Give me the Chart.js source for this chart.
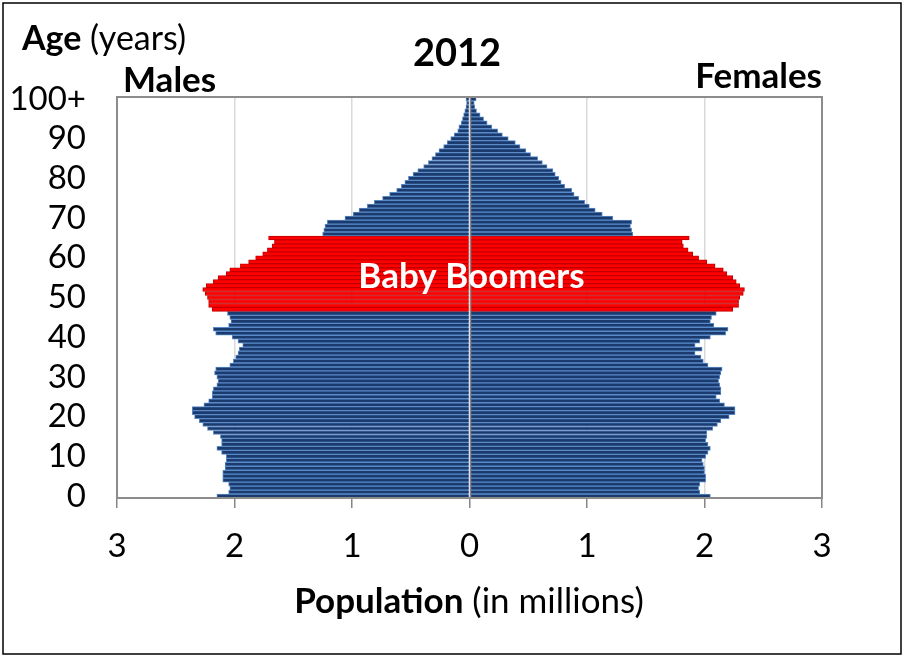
<!DOCTYPE html>
<html><head><meta charset="utf-8">
<script src="https://cdn.jsdelivr.net/npm/chart.js@4.4.1/dist/chart.umd.min.js"></script>
<style>html,body{margin:0;padding:0;background:#fff}#wrap{position:relative;width:904px;height:657px}canvas{display:block}</style>
</head><body><div id="wrap"><canvas id="c" width="904" height="657"></canvas></div>
<script>
// ---- data ----
const ageLabels = Array.from({length: 101}, (_, i) => i === 100 ? '100+' : String(i));
const tickAges = ['0','10','20','30','40','50','60','70','80','90','100+'];
const xTickValues = [-3,-2,-1,0,1,2,3];
const boomerAges = [47, 65]; // first and last age coloured as Baby Boomers
// population in millions, index = age (0 .. 100+)
const males = [2.15,2.05,2.04,2.05,2.10,2.10,2.10,2.08,2.08,2.07,
  2.07,2.11,2.15,2.11,2.11,2.12,2.18,2.23,2.27,2.30,
  2.34,2.36,2.36,2.26,2.22,2.19,2.19,2.18,2.15,2.14,
  2.15,2.17,2.16,2.04,2.01,1.99,1.97,1.96,1.93,1.97,
  2.02,2.16,2.18,2.05,2.03,2.04,2.06,2.19,2.22,2.22,
  2.23,2.25,2.27,2.24,2.18,2.14,2.07,2.04,1.95,1.88,
  1.82,1.76,1.72,1.68,1.66,1.71,1.25,1.24,1.23,1.21,
  1.06,0.99,0.94,0.87,0.81,0.74,0.68,0.62,0.58,0.55,
  0.52,0.48,0.44,0.39,0.35,0.32,0.29,0.26,0.22,0.19,
  0.16,0.13,0.10,0.09,0.07,0.06,0.05,0.04,0.03,0.025,
  0.03];
const females = [2.05,1.96,1.95,1.96,2.01,2.01,2.00,2.00,1.99,1.98,
  2.01,2.03,2.05,2.03,2.01,2.02,2.02,2.07,2.11,2.14,
  2.21,2.26,2.26,2.17,2.13,2.10,2.14,2.14,2.13,2.12,
  2.13,2.14,2.15,2.03,1.99,1.97,1.92,1.98,1.92,1.96,
  2.05,2.18,2.20,2.08,2.05,2.06,2.10,2.24,2.29,2.29,
  2.30,2.33,2.34,2.30,2.27,2.24,2.19,2.16,2.09,2.02,
  1.95,1.90,1.86,1.82,1.81,1.87,1.39,1.38,1.37,1.38,
  1.22,1.13,1.07,1.02,0.98,0.93,0.89,0.87,0.81,0.78,
  0.76,0.73,0.71,0.66,0.62,0.58,0.52,0.48,0.43,0.39,
  0.33,0.28,0.24,0.19,0.15,0.12,0.09,0.06,0.045,0.04,
  0.057];

// ---- styles ----
const NAVY = '#1B3A6E', NAVY_EDGE = '#5A8AC8';
const RED = '#FF0000', RED_EDGE = '#C00000';
const FONT = 'Lato, "Open Sans", sans-serif';
const isBoomer = i => i >= boomerAges[0] && i <= boomerAges[1];
const fills = ageLabels.map((_, i) => isBoomer(i) ? RED : NAVY);
const edges = ageLabels.map((_, i) => isBoomer(i) ? RED_EDGE : NAVY_EDGE);

const decor = {
  id: 'decor',
  afterDatasetsDraw(chart) {
    const {ctx, chartArea: a, scales: {x, y}} = chart;
    ctx.save();
    // zero (category axis) line on top of bars
    const x0 = Math.round(x.getPixelForValue(0)) + 0.5;
    ctx.strokeStyle = '#868686'; ctx.lineWidth = 1.5;
    ctx.beginPath(); ctx.moveTo(x0, a.top); ctx.lineTo(x0, a.bottom); ctx.stroke();
    // plot border
    ctx.strokeStyle = '#8C8C8C'; ctx.lineWidth = 2;
    ctx.strokeRect(a.left, a.top, a.right - a.left, a.bottom - a.top);
    // Baby Boomers label
    const yb = (y.getPixelForValue(boomerAges[0]) + y.getPixelForValue(boomerAges[1])) / 2;
    ctx.fillStyle = '#FFFFFF'; ctx.font = 'bold 35px ' + FONT;
    ctx.textAlign = 'center'; ctx.textBaseline = 'middle';
    ctx.fillText('Baby Boomers', x0 + 1, yb + 3);
    ctx.restore();
  },
  afterDraw(chart) {
    const {ctx} = chart;
    ctx.save();
    ctx.fillStyle = '#000'; ctx.textBaseline = 'alphabetic';
    const mixed = (parts, x, yb, align) => {
      let w = 0;
      parts.forEach(p => { ctx.font = p[1] + ' ' + p[2] + 'px ' + FONT; w += ctx.measureText(p[0]).width; });
      let cx = align === 'center' ? x - w / 2 : (align === 'right' ? x - w : x);
      ctx.textAlign = 'left';
      parts.forEach(p => { ctx.font = p[1] + ' ' + p[2] + 'px ' + FONT; ctx.fillText(p[0], cx, yb); cx += ctx.measureText(p[0]).width; });
    };
    mixed([['Age', 'bold', 34], [' (years)', 'normal', 34]], 22, 50, 'left');
    mixed([['Males', 'bold', 35]], 123, 92, 'left');
    mixed([['Females', 'bold', 35]], 822, 88, 'right');
    mixed([['2012', 'bold', 38]], 457, 66, 'center');
    mixed([['Population', 'bold', 35], [' (in millions)', 'normal', 35]], 469, 613, 'center');
    // outer frame
    ctx.strokeStyle = '#000'; ctx.lineWidth = 1.5;
    ctx.strokeRect(3, 3, 898, 651);
    ctx.restore();
  }
};

function build() {
  new Chart(document.getElementById('c'), {
    type: 'bar',
    data: {
      labels: ageLabels,
      datasets: [
        {label: 'Males', data: males.map(v => -v), backgroundColor: fills, borderColor: edges,
         borderWidth: 1, borderSkipped: 'start', barPercentage: 1, categoryPercentage: 1},
        {label: 'Females', data: females, backgroundColor: fills, borderColor: edges,
         borderWidth: 1, borderSkipped: 'start', barPercentage: 1, categoryPercentage: 1}
      ]
    },
    options: {
      indexAxis: 'y', responsive: false, animation: false, devicePixelRatio: 1,
      layout: {padding: {top: 97, right: 82, left: 0, bottom: 0}},
      plugins: {legend: {display: false}, tooltip: {enabled: false}, title: {display: false}},
      scales: {
        x: {
          type: 'linear', min: -3, max: 3, stacked: true,
          afterBuildTicks: s => { s.ticks = xTickValues.map(v => ({value: v})); },
          ticks: {callback: v => String(Math.abs(v)), font: {family: FONT, size: 33}, color: '#000', padding: 19, maxRotation: 0},
          grid: {
            color: c => (c.tick && [-2,-1,1,2].includes(c.tick.value)) ? '#D9D9D9' : 'rgba(0,0,0,0)',
            lineWidth: 1.5, tickLength: 10, tickColor: '#868686', tickWidth: 1.5
          },
          border: {display: false},
          afterFit: s => { s.height = 159; }
        },
        y: {
          type: 'category', reverse: true, stacked: true,
          grid: {display: false, drawTicks: false}, border: {display: false},
          ticks: {
            autoSkip: false,
            callback: function (val) { const l = this.getLabelForValue(val); return tickAges.includes(l) ? l : ''; },
            font: {family: FONT, size: 33}, color: '#000', padding: 31
          },
          afterFit: s => { s.width = 117; }
        }
      }
    },
    plugins: [decor]
  });
}
if (document.fonts && document.fonts.load) {
  Promise.all([document.fonts.load('30px Lato'), document.fonts.load('bold 30px Lato')]).then(build, build);
} else build();
</script></body></html>
